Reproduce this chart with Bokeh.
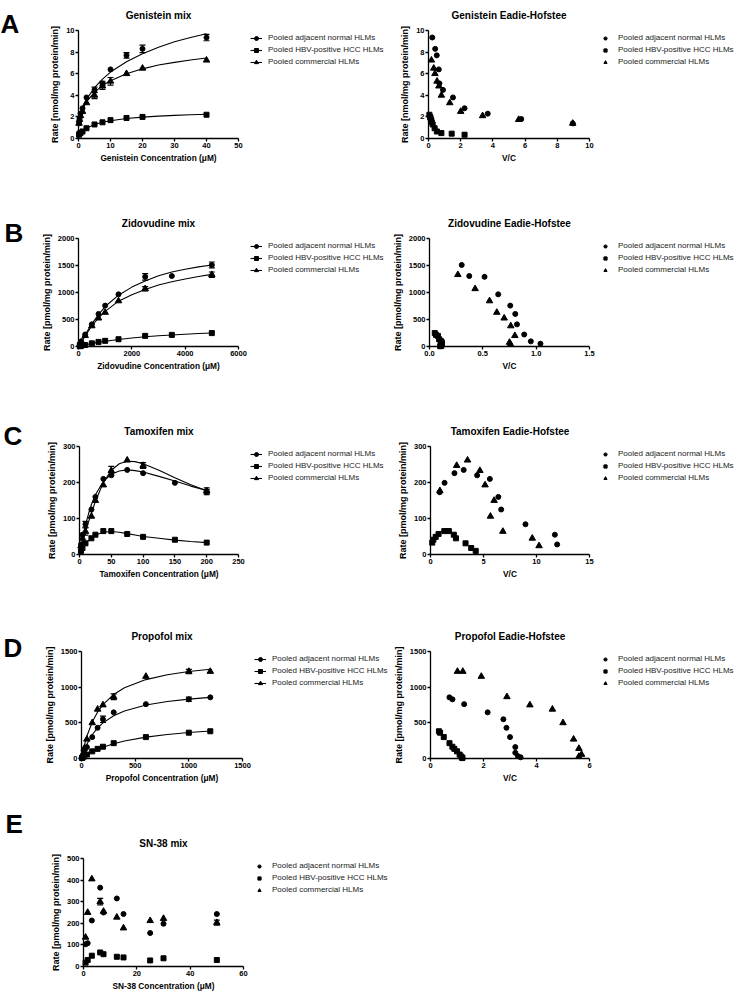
from bokeh.plotting import figure
from bokeh.layouts import column, row
from bokeh.models import (Legend, LegendItem, Label, FixedTicker, Range1d, LinearAxis,
                          NumeralTickFormatter)
from bokeh.embed import file_html
from bokeh.resources import INLINE

FONT = "Liberation Sans"
series_names = ["Pooled adjacent normal HLMs", "Pooled HBV-positive HCC HLMs",
                "Pooled commercial HLMs"]

# ---------------- Genistein (nmol/mg protein/min) ----------------
gen_conc = [0.15625, 0.3125, 0.625, 1.25, 2.5, 5, 7.5, 10, 15, 20, 40]
gen_normal = [1.4, 1.8, 2.3, 2.8, 3.8, 4.5, 5.1, 6.4, 7.7, 8.3, 9.35]
gen_normal_err = [0, 0, 0, 0, 0, 0.25, 0.2, 0, 0.25, 0.35, 0.3]
gen_hbv = [0.35, 0.45, 0.5, 0.65, 0.95, 1.3, 1.5, 1.7, 1.9, 2.0, 2.2]
gen_comm = [1.4, 1.75, 2.1, 2.5, 3.3, 4.0, 4.85, 5.3, 6.0, 6.5, 7.25]
gen_comm_err = [0, 0, 0, 0, 0, 0.3, 0.3, 0.35, 0, 0, 0]
gen_fit_x = [0.15625, 0.3125, 0.625, 1.25, 2.5, 5, 7.5, 10, 15, 20, 25, 30, 35, 40]
gen_fit_normal = [1.35, 1.8, 2.3, 2.9, 3.65, 4.7, 5.5, 6.15, 7.1, 7.85, 8.45, 8.95, 9.35, 9.7]
gen_fit_hbv = [0.3, 0.4, 0.52, 0.68, 0.95, 1.3, 1.5, 1.65, 1.85, 1.98, 2.07, 2.14, 2.2, 2.25]
gen_fit_comm = [1.3, 1.7, 2.15, 2.7, 3.4, 4.3, 4.9, 5.35, 6.0, 6.45, 6.8, 7.05, 7.27, 7.45]

# ---------------- Zidovudine (pmol/mg protein/min) ----------------
zid_conc = [50, 100, 250, 500, 750, 1000, 1500, 2500, 3500, 5000]
zid_normal = [52, 95, 222, 410, 603, 757, 966, 1290, 1305, 1510]
zid_normal_err = [0, 0, 0, 0, 0, 0, 0, 60, 0, 55]
zid_hbv = [5, 11, 28, 58, 85, 105, 135, 197, 215, 248]
zid_comm_conc = [50, 100, 250, 500, 750, 1000, 1500, 2500, 5000]
zid_comm = [38, 75, 200, 381, 525, 631, 844, 1069, 1330]
zid_comm_err = [0, 0, 0, 0, 0, 0, 0, 40, 50]
zid_fit_x = [0, 250, 500, 750, 1000, 1500, 2000, 2500, 3000, 3500, 4000, 4500, 5000]
zid_fit_normal = [0, 215, 420, 590, 740, 950, 1100, 1215, 1310, 1380, 1430, 1475, 1510]
zid_fit_comm = [0, 195, 380, 530, 650, 840, 960, 1055, 1140, 1200, 1250, 1295, 1335]
zid_fit_hbv = [0, 30, 55, 78, 97, 130, 158, 180, 198, 214, 228, 240, 250]

# ---------------- Tamoxifen ----------------
tam_conc = [2.34375, 4.6875, 9.375, 18.75, 25, 37.5, 50, 75, 100, 150, 200]
tam_normal = [28, 55, 84, 125, 160, 210, 220, 235, 226, 199, 173]
tam_normal_err = [0, 0, 8, 0, 0, 0, 0, 0, 0, 0, 7]
tam_hbv = [10, 18, 31, 45, 55, 65, 65, 57, 49, 41, 33]
tam_comm_conc = [2.34375, 4.6875, 9.375, 18.75, 25, 37.5, 50, 75, 100, 200]
tam_comm = [24, 45, 64, 106, 150, 193, 233, 262, 247, 177]
tam_comm_err = [0, 0, 10, 0, 0, 0, 12, 0, 8, 8]
tam_fit_x = [0, 2.34375, 5, 10, 15, 18.75, 25, 37.5, 50, 62.5, 75, 87.5, 100, 125, 150, 175, 200]
tam_fit_normal = [0, 23, 47, 86, 118, 139, 166, 203, 223, 232, 235, 233, 229, 217, 204, 190, 178]
tam_fit_comm = [0, 18, 36, 68, 95, 114, 148, 200, 234, 252, 259, 258, 252, 234, 213, 194, 177]
tam_fit_hbv = [0, 10, 18, 31, 40, 46, 54, 62, 64, 62, 58, 54, 50, 45, 40, 36, 33]

# ---------------- Propofol ----------------
pro_conc = [5, 10, 25, 50, 100, 150, 200, 300, 600, 1000, 1200]
pro_normal = [17, 33, 80, 160, 300, 430, 550, 647, 762, 829, 857]
pro_normal_err = [0, 0, 0, 0, 0, 0, 45, 0, 0, 30, 0]
pro_hbv = [6, 12, 29, 55, 100, 135, 165, 215, 300, 362, 382]
pro_comm = [28, 57, 140, 270, 500, 690, 750, 865, 1150, 1220, 1220]
pro_comm_err = [0, 0, 0, 0, 0, 0, 0, 40, 0, 30, 0]
pro_fit_x = [0, 10, 25, 50, 100, 150, 200, 300, 400, 600, 800, 1000, 1200]
pro_fit_normal = [0, 48, 111, 200, 333, 429, 500, 600, 667, 750, 800, 833, 857]
pro_fit_comm = [0, 75, 175, 311, 512, 652, 756, 898, 991, 1106, 1175, 1220, 1252]
pro_fit_hbv = [0, 11, 27, 51, 94, 129, 159, 208, 246, 300, 337, 364, 385]

# ---------------- SN-38 ----------------
sn_conc = [0.78125, 1.5625, 3.125, 6.25, 7.5, 12.5, 15, 25, 30, 50]
sn_normal = [103, 108, 213, 365, 250, 315, 243, 155, 198, 243]
sn_hbv = [18, 30, 50, 65, 57, 45, 42, 28, 38, 30]
sn_comm = [135, 250, 405, 300, 255, 228, 178, 212, 222, 203]
sn_comm_err = [0, 0, 0, 15, 0, 0, 0, 0, 0, 12]

# ---------------- axes ----------------
gen_mix_xticks = [0, 10, 20, 30, 40, 50]
gen_yticks = [0, 2, 4, 6, 8, 10]
gen_eh_xticks = [0, 2, 4, 6, 8, 10]
zid_mix_xticks = [0, 2000, 4000, 6000]
zid_yticks = [0, 500, 1000, 1500, 2000]
zid_eh_xticks = [0, 0.5, 1.0, 1.5]
tam_mix_xticks = [0, 50, 100, 150, 200, 250]
tam_yticks = [0, 100, 200, 300]
tam_eh_xticks = [0, 5, 10, 15]
pro_mix_xticks = [0, 500, 1000, 1500]
pro_yticks = [0, 500, 1000, 1500]
pro_eh_xticks = [0, 2, 4, 6]
sn_xticks = [0, 20, 40, 60]
sn_yticks = [0, 100, 200, 300, 400, 500]

Y_NMOL = "Rate [nmol/mg protein/min]"
Y_PMOL = "Rate [pmol/mg protein/min]"

MARK = {"normal": ("circle", 5), "hbv": ("square", 5), "comm": ("triangle", 6.5)}

MIX_W, EH_W = 392, 345


def style_axis(ax):
    ax.axis_line_width = 1.3
    ax.axis_line_color = "black"
    ax.major_tick_out = 3
    ax.major_tick_in = 0
    ax.major_tick_line_width = 1.3
    ax.minor_tick_out = 0
    ax.minor_tick_in = 0
    ax.major_label_text_font = FONT
    ax.major_label_text_font_size = "7.5px"
    ax.major_label_text_font_style = "bold"
    ax.major_label_text_color = "black"
    ax.major_label_standoff = 1
    ax.axis_label_text_font = FONT
    ax.axis_label_text_font_style = "bold"
    ax.axis_label_text_color = "black"


def mk_fig(w, h, fl, ft, fw, fh, xlim, ylim, title, xlabel, ylabel, xticks, yticks, xfmt=None):
    # the whole canvas is the frame; the axes sit at data zero, restricted by bounds
    dx = (xlim[1] - xlim[0]) / fw
    dy = (ylim[1] - ylim[0]) / fh
    xr = Range1d(xlim[0] - fl * dx, xlim[1] + (w - fl - fw) * dx)
    yr = Range1d(ylim[0] - (h - ft - fh) * dy, ylim[1] + ft * dy)
    p = figure(width=w, height=h, x_range=xr, y_range=yr, min_border=0,
               x_axis_location=None, y_axis_location=None,
               output_backend="svg", toolbar_location=None)
    p.grid.visible = False
    p.outline_line_color = None
    p.background_fill_color = None
    p.border_fill_color = None
    xa = LinearAxis(fixed_location=ylim[0], bounds=xlim, ticker=FixedTicker(ticks=xticks),
                    axis_label=xlabel)
    ya = LinearAxis(fixed_location=xlim[0], bounds=ylim, ticker=FixedTicker(ticks=yticks),
                    axis_label=ylabel)
    style_axis(xa)
    style_axis(ya)
    xa.axis_label_text_font_size = "8.3px"
    ya.axis_label_text_font_size = "9px"
    xa.axis_label_standoff = 2
    ya.axis_label_standoff = 3
    if xfmt:
        xa.formatter = NumeralTickFormatter(format=xfmt)
    p.add_layout(xa, "below")
    p.add_layout(ya, "left")
    p.add_layout(Label(x=(xlim[0] + xlim[1]) / 2, y=h - ft + 15, x_units="data", y_units="screen",
                       text=title, text_font=FONT, text_font_size="10px",
                       text_font_style="bold", text_align="center", text_baseline="middle",
                       text_color="black"))
    return p


def errbars(p, xs, ys, es):
    pts = [(x, y, e) for x, y, e in zip(xs, ys, es) if e > 0]
    if not pts:
        return
    X = [a for a, _, _ in pts]
    lo = [b - c for _, b, c in pts]
    hi = [b + c for _, b, c in pts]
    p.segment(X, lo, X, hi, line_color="black", line_width=1)
    p.scatter(X + X, lo + hi, marker="dash", size=6, line_color="black", line_width=1.2)


def series(p, kind, xs, ys, fit_x=None, fit_y=None, err=None):
    rs = []
    if fit_x is not None:
        rs.append(p.line(fit_x, fit_y, line_color="black", line_width=1.1))
    if err is not None:
        errbars(p, xs, ys, err)
    m, s = MARK[kind]
    rs.append(p.scatter(xs, ys, marker=m, size=s, fill_color="black", line_color="black"))
    return rs


def legend(p, groups, glyph_w, standoff, h, fl, ft, fw):
    items = [LegendItem(label=n, renderers=r) for n, r in zip(series_names, groups)]
    leg = Legend(items=items, location=(fl + fw + 12, h - ft - 36.5))
    leg.border_line_color = None
    leg.background_fill_alpha = 0
    leg.padding = 0
    leg.margin = 0
    leg.spacing = 2
    leg.glyph_width = glyph_w
    leg.glyph_height = 10
    leg.label_height = 10
    leg.label_standoff = standoff
    leg.label_text_font = FONT
    leg.label_text_font_size = "8px"
    leg.label_text_color = "#222222"
    p.add_layout(leg)


def panel_letter(p, txt, h, x, baseline):
    p.add_layout(Label(x=x, y=h - baseline, x_units="screen", y_units="screen", text=txt,
                       text_font=FONT, text_font_size="26px", text_font_style="bold",
                       text_baseline="alphabetic", text_align="left", text_color="black"))


def vc(vals, conc):
    return [v / c for v, c in zip(vals, conc)]


def mix_panel(h, fl, ft, fw, fh, xlim, ylim, title, xlabel, ylabel, xt, yt, data):
    p = mk_fig(MIX_W, h, fl, ft, fw, fh, xlim, ylim, title, xlabel, ylabel, xt, yt)
    groups = []
    for kind, xs, ys, fx, fy, err in data:
        groups.append(series(p, kind, xs, ys, fx, fy, err))
    legend(p, groups, 12, 6, h, fl, ft, fw)
    return p


def eh_panel(h, fl, ft, fw, fh, xlim, ylim, title, ylabel, xt, yt, data, xfmt=None):
    p = mk_fig(EH_W, h, fl, ft, fw, fh, xlim, ylim, title, "V/C", ylabel, xt, yt, xfmt)
    groups = []
    for kind, xs, ys in data:
        groups.append(series(p, kind, xs, ys))
    legend(p, groups, 8, 9, h, fl, ft, fw)
    return p


# Row A  (page y 0-208)
hA = 208
pA = mix_panel(hA, 78, 30, 160, 108, (0, 50), (0, 10), "Genistein mix",
               "Genistein Concentration (\u03bcM)", Y_NMOL, gen_mix_xticks, gen_yticks,
               [("normal", gen_conc, gen_normal, gen_fit_x, gen_fit_normal, gen_normal_err),
                ("hbv", gen_conc, gen_hbv, gen_fit_x, gen_fit_hbv, None),
                ("comm", gen_conc, gen_comm, gen_fit_x, gen_fit_comm, gen_comm_err)])
panel_letter(pA, "A", hA, 0, 23)
qA = eh_panel(hA, 36, 30, 161, 108, (0, 10), (0, 10), "Genistein Eadie-Hofstee", Y_NMOL,
              gen_eh_xticks, gen_yticks,
              [("normal", vc(gen_normal, gen_conc), gen_normal),
               ("hbv", vc(gen_hbv, gen_conc), gen_hbv),
               ("comm", vc(gen_comm, gen_conc), gen_comm)])

# Row B  (page y 208-416)
hB = 208
pB = mix_panel(hB, 78, 30, 160, 108, (0, 6000), (0, 2000), "Zidovudine mix",
               "Zidovudine Concentration (\u03bcM)", Y_PMOL, zid_mix_xticks, zid_yticks,
               [("normal", zid_conc, zid_normal, zid_fit_x, zid_fit_normal, zid_normal_err),
                ("hbv", zid_conc, zid_hbv, zid_fit_x, zid_fit_hbv, None),
                ("comm", zid_comm_conc, zid_comm, zid_fit_x, zid_fit_comm, zid_comm_err)])
panel_letter(pB, "B", hB, 4, 24)
qB = eh_panel(hB, 37, 30, 160, 108, (0, 1.5), (0, 2000), "Zidovudine Eadie-Hofstee", Y_PMOL,
              zid_eh_xticks, zid_yticks,
              [("normal", vc(zid_normal, zid_conc), zid_normal),
               ("hbv", vc(zid_hbv, zid_conc), zid_hbv),
               ("comm", vc(zid_comm, zid_comm_conc), zid_comm)], xfmt="0.0")

# Row C  (page y 416-621)
hC = 205
pC = mix_panel(hC, 79, 30, 159, 108, (0, 250), (0, 300), "Tamoxifen mix",
               "Tamoxifen Concentration (\u03bcM)", Y_PMOL, tam_mix_xticks, tam_yticks,
               [("normal", tam_conc, tam_normal, tam_fit_x, tam_fit_normal, tam_normal_err),
                ("hbv", tam_conc, tam_hbv, tam_fit_x, tam_fit_hbv, None),
                ("comm", tam_comm_conc, tam_comm, tam_fit_x, tam_fit_comm, tam_comm_err)])
panel_letter(pC, "C", hC, 3, 19)
qC = eh_panel(hC, 38, 30, 159, 108, (0, 15), (0, 300), "Tamoxifen Eadie-Hofstee", Y_PMOL,
              tam_eh_xticks, tam_yticks,
              [("normal", vc(tam_normal, tam_conc), tam_normal),
               ("hbv", vc(tam_hbv, tam_conc), tam_hbv),
               ("comm", vc(tam_comm, tam_comm_conc), tam_comm)])

# Row D  (page y 621-800)
hD = 179
pD = mix_panel(hD, 81, 30, 161, 107, (0, 1500), (0, 1500), "Propofol mix",
               "Propofol Concentration (\u03bcM)", Y_PMOL, pro_mix_xticks, pro_yticks,
               [("normal", pro_conc, pro_normal, pro_fit_x, pro_fit_normal, pro_normal_err),
                ("hbv", pro_conc, pro_hbv, pro_fit_x, pro_fit_hbv, None),
                ("comm", pro_conc, pro_comm, pro_fit_x, pro_fit_comm, pro_comm_err)])
panel_letter(pD, "D", hD, 3, 26)
qD = eh_panel(hD, 38, 30, 159, 107, (0, 6), (0, 1500), "Propofol Eadie-Hofstee", Y_PMOL,
              pro_eh_xticks, pro_yticks,
              [("normal", vc(pro_normal, pro_conc), pro_normal),
               ("hbv", vc(pro_hbv, pro_conc), pro_hbv),
               ("comm", vc(pro_comm, pro_conc), pro_comm)])

# Row E  (page y 800-991)
hE = 191
pE = mk_fig(MIX_W, hE, 83, 58, 160, 108, (0, 60), (0, 500), "SN-38 mix",
            "SN-38 Concentration (\u03bcM)", Y_PMOL, sn_xticks, sn_yticks)
gE = [series(pE, "normal", sn_conc, sn_normal),
      series(pE, "hbv", sn_conc, sn_hbv),
      series(pE, "comm", sn_conc, sn_comm, err=sn_comm_err)]
legend(pE, gE, 8, 9, hE, 83, 58, 160)
panel_letter(pE, "E", hE, 5, 23)

layout = column(row(pA, qA), row(pB, qB), row(pC, qC), row(pD, qD), row(pE))

open("out.html", "w").write(file_html(layout, INLINE))
